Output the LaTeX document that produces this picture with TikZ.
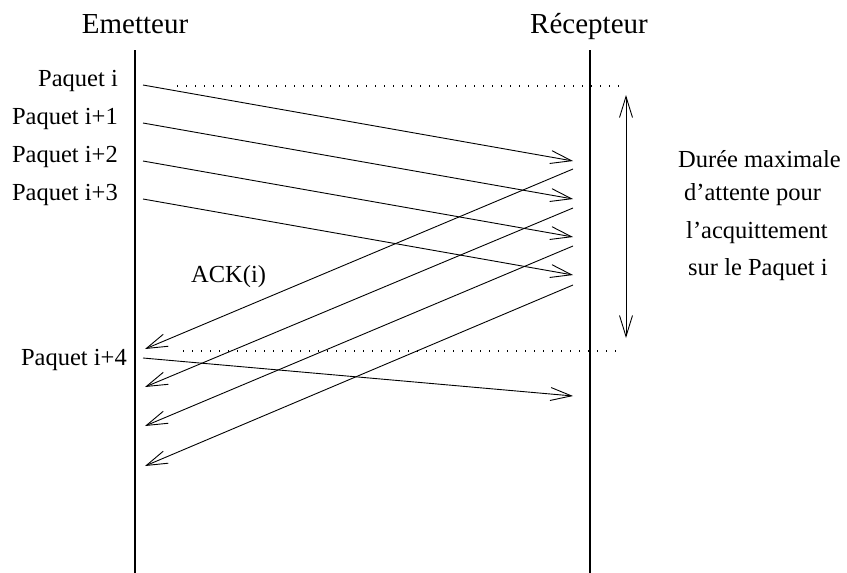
\documentclass[tikz,border=0pt]{standalone}
\usepackage{fontspec}
\setmainfont{Liberation Serif}
\usetikzlibrary{arrows.meta}
\begin{document}
\begin{tikzpicture}[x=1pt,y=-1pt,
  lbl/.style={inner sep=0pt,font=\fontsize{24.5}{28}\selectfont},
  hdr/.style={inner sep=0pt,font=\fontsize{29}{33}\selectfont},
  life/.style={line width=1.3pt},
  msg/.style={line width=0.9pt,-{Straight Barb[length=21pt,width=13pt,line width=0.9pt]}},
  dots/.style={line width=1.2pt,dash pattern=on 1.2pt off 7.8pt},
  dur/.style={line width=0.9pt,{Straight Barb[length=21pt,width=13pt,line width=0.9pt]}-{Straight Barb[length=21pt,width=13pt,line width=0.9pt]}}]
\useasboundingbox (0,0) rectangle (847,573);
% headers
\node[hdr,anchor=base] (em) at (135,33) {Emetteur};
\node[hdr,anchor=base] (rc) at (589,33) {Récepteur};
% lifelines
\coordinate (lt) at (135,50); \coordinate (lb) at (135,573);
\coordinate (rt) at (590,50); \coordinate (rb) at (590,573);
\draw[life] (lt) -- (lb);
\draw[life] (rt) -- (rb);
% packet labels
\node[lbl,anchor=base east] (p0) at (118,86) {Paquet i};
\node[lbl,anchor=base east] (p1) at (118,124) {Paquet i+1};
\node[lbl,anchor=base east] (p2) at (118,162) {Paquet i+2};
\node[lbl,anchor=base east] (p3) at (118,200) {Paquet i+3};
\node[lbl,anchor=base east] (p4) at (127,365) {Paquet i+4};
\node[lbl,anchor=base west] (ack) at (191,282) {ACK(i)};
% data messages
\coordinate (s0) at (143,85);  \coordinate (e0) at (573,161);
\coordinate (s1) at (143,123); \coordinate (e1) at (573,199);
\coordinate (s2) at (143,161); \coordinate (e2) at (573,237);
\coordinate (s3) at (143,199); \coordinate (e3) at (573,275);
\coordinate (s4) at (143,358); \coordinate (e4) at (573,396);
\foreach \i in {0,...,4} \draw[msg] (s\i) -- (e\i);
% acks
\coordinate (a0) at (573,169); \coordinate (b0) at (145,349);
\coordinate (a1) at (573,208); \coordinate (b1) at (145,387);
\coordinate (a2) at (573,246); \coordinate (b2) at (145,426);
\coordinate (a3) at (573,285); \coordinate (b3) at (145,466);
\foreach \i in {0,...,3} \draw[msg] (a\i) -- (b\i);
% dotted marks
\coordinate (d0a) at (177,86); \coordinate (d0b) at (623,86);
\coordinate (d1a) at (183,351); \coordinate (d1b) at (621,351);
\draw[dots] (d0a) -- (d0b);
\draw[dots] (d1a) -- (d1b);
% duration
\coordinate (ut) at (626,95); \coordinate (ub) at (626,338);
\draw[dur] (ut) -- (ub);
\node[lbl,anchor=base west] (t1) at (678,167) {Durée maximale};
\node[lbl,anchor=base west] (t2) at (684,200) {d’attente pour};
\node[lbl,anchor=base west] (t3) at (686,238) {l’acquittement};
\node[lbl,anchor=base west] (t4) at (688,275) {sur le Paquet i};
\end{tikzpicture}
\end{document}
